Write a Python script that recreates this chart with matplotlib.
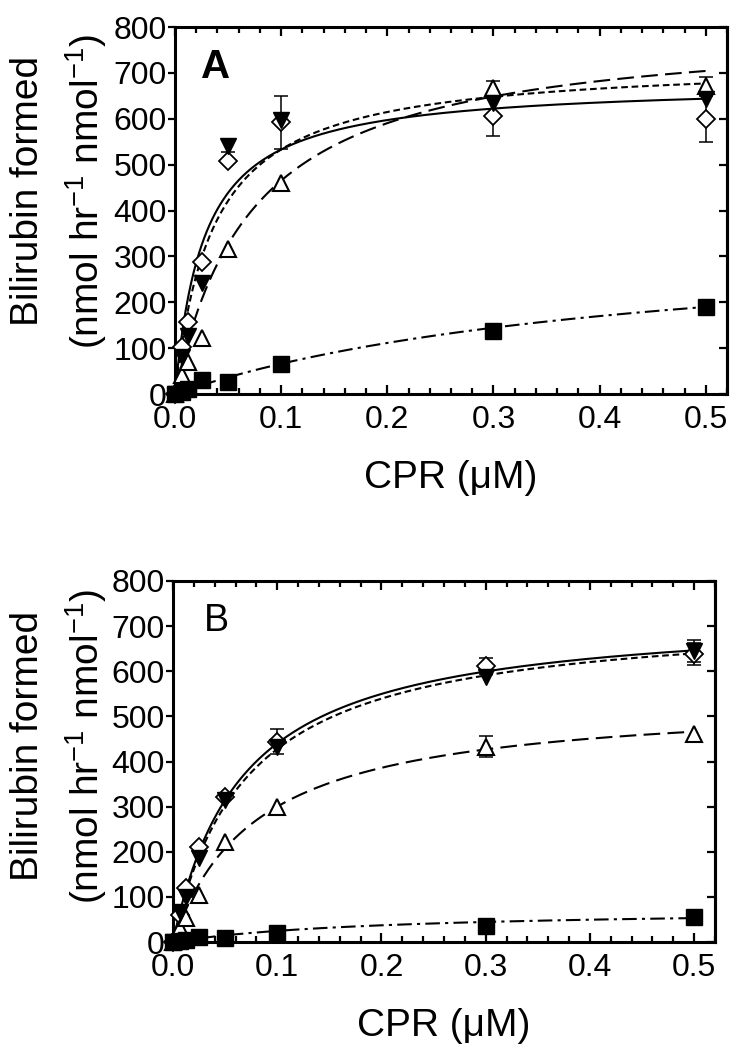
import numpy as np
import matplotlib
matplotlib.use("Agg")
import matplotlib.pyplot as plt

plt.rcParams['font.family'] = ['Liberation Sans', 'DejaVu Sans']
plt.rcParams['mathtext.fontset'] = 'custom'
plt.rcParams['mathtext.rm'] = 'Liberation Sans'
plt.rcParams['mathtext.it'] = 'Liberation Sans:italic'
plt.rcParams['mathtext.bf'] = 'Liberation Sans:bold'

# ---------------- data ----------------
cpr = [0, 0.00625, 0.0125, 0.025, 0.05, 0.1, 0.3, 0.5]

# Panel A
a_diamond = [0, 103, 158, 288, 508, 592, 605, 600]
a_diamond_err = [0, 0, 0, 0, 0, 57, 43, 51]
a_filltri = [0, 81, 127, 242, 540, 598, 635, 642]
a_filltri_err = [0, 0, 0, 0, 13, 0, 0, 0]
a_opentri = [0, 41, 70, 122, 317, 461, 667, 671]
a_opentri_err = [0, 0, 0, 0, 0, 0, 16, 21]
a_square = [0, 5, 10, 31, 27, 66, 138, 190]
a_square_err = [0, 0, 0, 0, 0, 0, 0, 0]

# Panel B
b_diamond = [0, 60, 120, 211, 322, 444, 612, 638]
b_diamond_err = [0, 0, 0, 0, 0, 28, 18, 25]
b_filltri = [0, 66, 100, 186, 315, 433, 588, 645]
b_filltri_err = [0, 0, 0, 0, 0, 0, 0, 25]
b_opentri = [0, 30, 53, 104, 222, 300, 433, 462]
b_opentri_err = [0, 0, 0, 0, 0, 0, 23, 0]
b_square = [0, 3, 5, 10, 9, 21, 35, 56]
b_square_err = [0, 0, 0, 0, 0, 0, 0, 0]

# Fitted hyperbolic curves (Vmax, Km)
a_fit_vmax = [679, 726, 808, 358]
a_fit_km = [0.0274, 0.0362, 0.0737, 0.443]
b_fit_vmax = [732, 730, 541, 74.4]
b_fit_km = [0.0663, 0.0707, 0.0803, 0.202]

x_ticks = [0.0, 0.1, 0.2, 0.3, 0.4, 0.5]
y_ticks = [0, 100, 200, 300, 400, 500, 600, 700, 800]

# ---------------- figure ----------------
W, H = 738, 1050
fig = plt.figure(figsize=(W / 100, H / 100), dpi=100)

def px_axes(l, r, t, b):
    return fig.add_axes([l / W, 1 - b / H, (r - l) / W, (b - t) / H])

axA = px_axes(175, 727, 27, 394)
axB = px_axes(173, 715, 581, 942)

line_styles = ['-', (0, (3.2, 1.8)), (0, (8, 3.5)), (0, (7, 2.5, 1.5, 2.5))]

def draw_panel(ax, series, fits_v, fits_k, label, bold):
    xs = np.linspace(0, 0.5, 400)
    for v, k, ls in zip(fits_v, fits_k, line_styles):
        ax.plot(xs, v * xs / (k + xs), color='black', lw=1.5, ls=ls, zorder=2,
                dash_capstyle='butt')
    for (y, err, mk, ms, fc, mew) in series:
        e = np.array(err, dtype=float)
        mask = e > 0
        if mask.any():
            ax.errorbar(np.array(cpr)[mask], np.array(y, dtype=float)[mask],
                        yerr=e[mask], fmt='none', ecolor='black', elinewidth=1.1,
                        capsize=5, capthick=1.1, zorder=3, clip_on=False)
        ax.plot(cpr, y, ls='none', marker=mk, ms=ms, mfc=fc, mec='black',
                mew=mew, zorder=4, clip_on=False)
    ax.set_xlim(0, 0.52)
    ax.set_ylim(0, 800)
    ax.set_xticks(x_ticks)
    ax.set_xticklabels(['%.1f' % t for t in x_ticks])
    ax.set_xticks(np.arange(0, 0.521, 0.02), minor=True)
    ax.set_yticks(y_ticks)
    ax.set_yticklabels([str(t) for t in y_ticks])
    for s in ax.spines.values():
        s.set_linewidth(2.2)
    ax.tick_params(axis='x', which='major', direction='in', top=True, bottom=True,
                   length=6.5, width=1.6, labelsize=23, pad=8)
    ax.tick_params(axis='x', which='minor', direction='in', top=True, bottom=True,
                   length=4.5, width=1.6)
    ax.tick_params(axis='y', which='major', direction='out', left=True, right=False,
                   length=5, width=1.6, labelsize=23, pad=1)
    sec = ax.secondary_yaxis('right')
    sec.set_yticks(y_ticks)
    sec.tick_params(axis='y', direction='in', length=5.5, width=1.6, labelright=False)
    sec.spines['right'].set_linewidth(2.2)
    ax.set_xlabel('CPR (\u03bcM)', fontsize=28, labelpad=18)
    ax.text(0.073 if bold else 0.081, 0.89, label, transform=ax.transAxes,
            fontsize=29 if bold else 27, fontweight='bold' if bold else 'normal',
            ha='center', va='center')

seriesA = [
    (a_diamond, a_diamond_err, 'D', 9, 'white', 1.3),
    (a_opentri, a_opentri_err, '^', 12, 'white', 1.5),
    (a_filltri, a_filltri_err, 'v', 12, 'black', 1.0),
    (a_square, a_square_err, 's', 11, 'black', 1.0),
]
seriesB = [
    (b_diamond, b_diamond_err, 'D', 9, 'white', 1.3),
    (b_opentri, b_opentri_err, '^', 12, 'white', 1.5),
    (b_filltri, b_filltri_err, 'v', 12, 'black', 1.0),
    (b_square, b_square_err, 's', 11, 'black', 1.0),
]

draw_panel(axA, seriesA, a_fit_vmax, a_fit_km, 'A', True)
draw_panel(axB, seriesB, b_fit_vmax, b_fit_km, 'B', False)

# Y-axis labels (two lines) as figure text
for yc in (191, 746):
    fig.text(28 / W, 1 - yc / H, 'Bilirubin formed', rotation=90,
             fontsize=28, ha='center', va='center')
    fig.text(86 / W, 1 - yc / H, '(nmol hr$^{-1}$ nmol$^{-1}$)', rotation=90,
             fontsize=28, ha='center', va='center')

fig.savefig('out.png', dpi=100)
